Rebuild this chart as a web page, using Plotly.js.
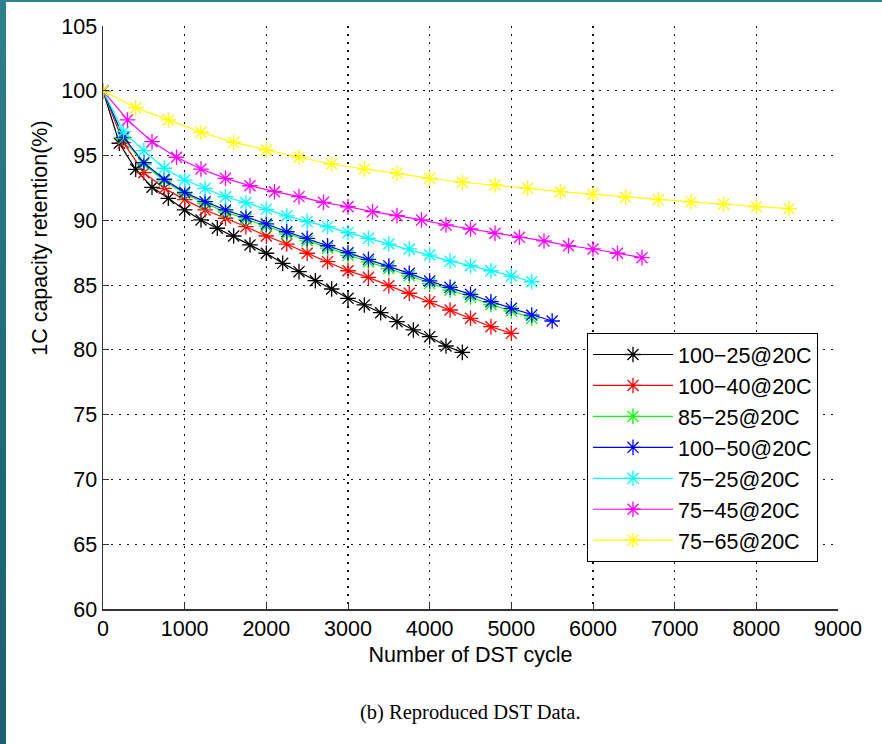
<!DOCTYPE html>
<html>
<head>
<meta charset="utf-8">
<script src="https://cdn.plot.ly/plotly-3.0.1.min.js"></script>
<style>
  html, body { margin: 0; padding: 0; background: #ffffff; }
  #wrap { position: relative; width: 882px; height: 744px; overflow: hidden; }
  #chart { position: absolute; left: 0; top: 0; width: 882px; height: 744px; }
  .edgeL { position: absolute; left: 0; top: 0; width: 6px; height: 744px;
           background: linear-gradient(to bottom, #2f7f8c, #226a7a 50%, #1d5f70); pointer-events: none; }
  .edgeT { position: absolute; left: 0; top: 0; width: 882px; height: 2px;
           background: #2f8290; pointer-events: none; }
</style>
</head>
<body>
<div id="wrap">
  <div id="chart"></div>
  <div class="edgeL"></div>
  <div class="edgeT"></div>
</div>
<script>
// ---- data ----
const seriesNames = ["100\u221225@20C", "100\u221240@20C", "85\u221225@20C", "100\u221250@20C",
                     "75\u221225@20C", "75\u221245@20C", "75\u221265@20C"];
const seriesColors = ["#000000", "#ff0000", "#00ff00", "#0000ff", "#00ffff", "#ff00ff", "#ffff00"];

const cycles_100_25 = [0,200,400,600,800,1000,1200,1400,1600,1800,2000,2200,2400,2600,2800,3000,3200,3400,3600,3800,4000,4200,4400];
const ret_100_25 = [100,95.95,93.94,92.55,91.7,90.8,90.03,89.39,88.79,88.1,87.46,86.68,86.04,85.34,84.7,83.98,83.47,82.87,82.18,81.54,81.02,80.3,79.81];

const cycles_100_40 = [0,250,500,750,1000,1250,1500,1750,2000,2250,2500,2750,3000,3250,3500,3750,4000,4250,4500,4750,5000];
const ret_100_40 = [100,96.0,93.68,92.47,91.6,90.8,90.16,89.51,88.79,88.17,87.46,86.81,86.11,85.6,84.96,84.37,83.72,83.08,82.44,81.79,81.28];

const cycles_85_25 = [0,250,500,750,1000,1250,1500,1750,2000,2250,2500,2750,3000,3250,3500,3750,4000,4250,4500,4750,5000,5250];
const ret_85_25 = [100,96.3,94.35,93.05,92.05,91.3,90.65,90.1,89.55,88.95,88.42,87.85,87.3,86.8,86.28,85.72,85.12,84.62,84.08,83.5,83.0,82.45];

const cycles_100_50 = [0,250,500,750,1000,1250,1500,1750,2000,2250,2500,2750,3000,3250,3500,3750,4000,4250,4500,4750,5000,5250,5500];
const ret_100_50 = [100,96.41,94.45,93.17,92.16,91.44,90.8,90.28,89.72,89.12,88.61,88.04,87.5,86.99,86.48,85.91,85.32,84.83,84.29,83.72,83.21,82.69,82.23];

const cycles_75_25 = [0,250,500,750,1000,1250,1500,1750,2000,2250,2500,2750,3000,3250,3500,3750,4000,4250,4500,4750,5000,5250];
const ret_75_25 = [100,96.84,95.38,94.02,93.11,92.47,91.82,91.36,90.85,90.34,89.9,89.51,89.05,88.61,88.17,87.79,87.32,86.85,86.5,86.11,85.7,85.26];

const cycles_75_45 = [0,300,600,900,1200,1500,1800,2100,2400,2700,3000,3300,3600,3900,4200,4500,4800,5100,5400,5700,6000,6300,6600];
const ret_75_45 = [100,97.75,96.07,94.87,93.96,93.24,92.67,92.21,91.83,91.39,91.05,90.67,90.36,90.03,89.64,89.33,89.0,88.69,88.41,88.04,87.79,87.46,87.12];

const cycles_75_65 = [0,400,800,1200,1600,2000,2400,2800,3200,3600,4000,4400,4800,5200,5600,6000,6400,6800,7200,7600,8000,8400];
const ret_75_65 = [100,98.69,97.75,96.80,96.02,95.43,94.87,94.35,93.96,93.63,93.24,92.94,92.73,92.47,92.21,92.01,91.78,91.60,91.42,91.24,91.05,90.9];

const xTickVals = [0,1000,2000,3000,4000,5000,6000,7000,8000,9000];
const yTickVals = [60,65,70,75,80,85,90,95,100,105];

const xTitle = "Number of DST cycle";
const yTitle = "1C capacity retention(%)";
const caption = "(b) Reproduced DST Data.";

const allX = [cycles_100_25, cycles_100_40, cycles_85_25, cycles_100_50, cycles_75_25, cycles_75_45, cycles_75_65];
const allY = [ret_100_25, ret_100_40, ret_85_25, ret_100_50, ret_75_25, ret_75_45, ret_75_65];

const traces = allX.map((xs, i) => ({
  type: "scatter",
  mode: "lines+markers",
  name: seriesNames[i],
  legendgroup: "g" + i,
  x: xs,
  y: allY[i],
  line: { color: seriesColors[i], width: 1.2 },
  marker: { symbol: "asterisk-open", size: 13, color: seriesColors[i], line: { color: seriesColors[i], width: 1.3 } }
}));

const fontSans = "Liberation Sans, Arial, Helvetica, sans-serif";
const FS = 21.5;

const layout = {
  width: 882,
  height: 744,
  margin: { l: 103, r: 44, t: 26, b: 135 },
  paper_bgcolor: "#ffffff",
  plot_bgcolor: "#ffffff",
  showlegend: true,
  font: { family: fontSans, color: "#000000", size: FS },
  xaxis: {
    range: [0, 9000],
    tickvals: xTickVals,
    ticktext: xTickVals.map(String),
    ticks: "inside",
    ticklen: 6,
    tickcolor: "#333333",
    showline: true,
    linecolor: "#333333",
    linewidth: 1.5,
    mirror: false,
    showgrid: true,
    gridcolor: "#111111",
    griddash: "2px,6px",
    gridwidth: 1.2,
    zeroline: false,
    tickfont: { family: fontSans, size: FS, color: "#000000" },
    title: { text: xTitle, font: { family: fontSans, size: FS, color: "#000000" }, standoff: 6 }
  },
  yaxis: {
    range: [60, 105],
    tickvals: yTickVals,
    ticktext: yTickVals.map(String),
    ticks: "inside",
    ticklen: 6,
    tickcolor: "#333333",
    showline: true,
    linecolor: "#333333",
    linewidth: 1.5,
    mirror: false,
    showgrid: true,
    gridcolor: "#111111",
    griddash: "2px,6px",
    gridwidth: 1.2,
    zeroline: false,
    tickfont: { family: fontSans, size: FS, color: "#000000" }
  },
  legend: {
    x: 0.6585, y: 0.4734,
    xanchor: "left", yanchor: "top",
    bgcolor: "#ffffff",
    bordercolor: "#000000",
    borderwidth: 1,
    itemwidth: 80,
    tracegroupgap: 0,
    font: { family: fontSans, size: FS, color: "#000000" }
  },
  annotations: [
    {
      text: yTitle,
      xref: "paper", yref: "paper",
      x: -0.0857, y: 0.635,
      xanchor: "center", yanchor: "middle",
      textangle: -90,
      showarrow: false,
      font: { family: fontSans, size: FS, color: "#000000" }
    },
    {
      text: caption,
      xref: "paper", yref: "paper",
      x: 0.50, y: -0.178,
      xanchor: "center", yanchor: "middle",
      showarrow: false,
      font: { family: "Liberation Serif, Times New Roman, serif", size: 20.5, color: "#000000" }
    }
  ]
};

Plotly.newPlot("chart", traces, layout, { displayModeBar: false, staticPlot: true });
</script>
</body>
</html>
